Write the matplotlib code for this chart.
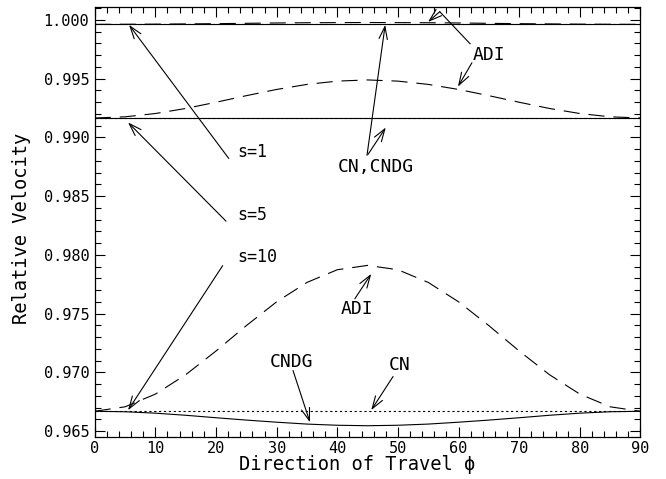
import matplotlib
matplotlib.use("Agg")
import matplotlib.pyplot as plt
from matplotlib.ticker import MultipleLocator, FormatStrFormatter

plt.rcParams['font.family'] = ['DejaVu Sans Mono', 'DejaVu Sans']

# Direction of travel (degrees)
phi = [0, 5, 10, 15, 20, 25, 30, 35, 40, 45, 50, 55, 60, 65, 70, 75, 80, 85, 90]

# s = 1
s1_cn = [0.99963] * 19
s1_cndg = [0.99962] * 19
s1_adi = [0.99962, 0.99963, 0.99964, 0.99966, 0.99968, 0.99971, 0.99974, 0.99976, 0.99977, 0.99978,
          0.99977, 0.99976, 0.99974, 0.99971, 0.99968, 0.99966, 0.99964, 0.99963, 0.99962]

# s = 5
s5_cn = [0.99168] * 19
s5_cndg = [0.99165] * 19
s5_adi = [0.99165, 0.99175, 0.99203, 0.99246, 0.99299, 0.99355, 0.99408, 0.99451, 0.99479, 0.99489,
          0.99479, 0.99451, 0.99408, 0.99355, 0.99299, 0.99246, 0.99203, 0.99175, 0.99165]

# s = 10
s10_cn = [0.96674] * 19
s10_cndg = [0.96668, 0.96664, 0.96652, 0.96634, 0.96613, 0.96593, 0.96575, 0.96559, 0.96549, 0.96545,
            0.96549, 0.96559, 0.96575, 0.96593, 0.96613, 0.96634, 0.96652, 0.96664, 0.96668]
s10_adi = [0.96668, 0.96706, 0.96814, 0.96979, 0.97181, 0.97397, 0.97600, 0.97765, 0.97873, 0.97910,
           0.97873, 0.97765, 0.97600, 0.97397, 0.97181, 0.96979, 0.96814, 0.96706, 0.96668]

x_ticks = [0, 10, 20, 30, 40, 50, 60, 70, 80, 90]
y_ticks = [0.965, 0.970, 0.975, 0.980, 0.985, 0.990, 0.995, 1.000]

fig = plt.figure(figsize=(6.66, 4.79), dpi=100)
ax = fig.add_axes([94.7 / 666, 1 - 437 / 479, (640.5 - 94.7) / 666, (437 - 7) / 479])

lw = 0.8
for cn, cndg, adi in [(s1_cn, s1_cndg, s1_adi), (s5_cn, s5_cndg, s5_adi), (s10_cn, s10_cndg, s10_adi)]:
    ax.plot(phi, cn, color='black', lw=lw, linestyle=(0, (2.0, 2.4)))
    ax.plot(phi, cndg, color='black', lw=lw)
    ax.plot(phi, adi, color='black', lw=lw, linestyle=(0, (14.5, 8.0)))

ax.set_xlim(0, 90)
ax.set_ylim(0.96449, 1.0011)
ax.set_xticks(x_ticks)
ax.set_yticks(y_ticks)
ax.xaxis.set_minor_locator(MultipleLocator(2))
ax.yaxis.set_minor_locator(MultipleLocator(0.001))
ax.yaxis.set_major_formatter(FormatStrFormatter('%.3f'))
ax.tick_params(which='both', direction='in', top=True, right=True, width=0.8, labelsize=11)
ax.tick_params(which='major', length=7)
ax.tick_params(which='minor', length=4)
ax.tick_params(axis='x', pad=3)
ax.tick_params(axis='y', pad=4)
for sp in ax.spines.values():
    sp.set_linewidth(0.9)

fig.text(357.5 / 666, 1 - 465 / 479, 'Direction of Travel ϕ', ha='center', va='center', fontsize=13.5)
fig.text(22 / 666, 1 - 228.5 / 479, 'Relative Velocity', ha='center', va='center', rotation=90, fontsize=13.5)

aprops = dict(arrowstyle='->,head_length=0.9,head_width=0.3', lw=0.8, color='black', shrinkA=0, shrinkB=0)

def arrow(tip, tail):
    ax.annotate('', xy=tip, xytext=tail, arrowprops=aprops)

# s labels
ax.text(23.5, 0.98875, 's=1', fontsize=12, va='center', ha='left')
arrow((5.66, 0.99958), (22.1, 0.98821))
ax.text(23.5, 0.98338, 's=5', fontsize=12, va='center', ha='left')
arrow((5.5, 0.99127), (21.65, 0.98287))
ax.text(23.5, 0.97982, 's=10', fontsize=12, va='center', ha='left')
arrow((5.5, 0.96677), (21.1, 0.97908))

# CN,CNDG
ax.text(40.1, 0.98745, 'CN,CNDG', fontsize=13, va='center', ha='left')
arrow((47.9, 0.99958), (44.9, 0.98847))
arrow((48.0, 0.99084), (45.07, 0.98855))

# ADI top
ax.text(62.4, 0.99703, 'ADI', fontsize=13, va='center', ha='left')
ax.plot([61.9, 56.9], [0.99797, 1.0007], color='black', lw=0.8, clip_on=False)
arrow((54.97, 0.99983), (56.9, 1.0007))
arrow((59.9, 0.99432), (62.2, 0.99635))

# ADI middle
ax.text(43.3, 0.97541, 'ADI', fontsize=13, va='center', ha='center')
arrow((45.6, 0.97838), (42.9, 0.97626))

# CNDG
ax.text(32.4, 0.97091, 'CNDG', fontsize=13, va='center', ha='center')
arrow((35.5, 0.96574), (32.7, 0.97015))

# CN
ax.text(50.3, 0.97066, 'CN', fontsize=13, va='center', ha='center')
arrow((45.6, 0.96678), (49.2, 0.96964))

fig.savefig('out.png', dpi=100)
